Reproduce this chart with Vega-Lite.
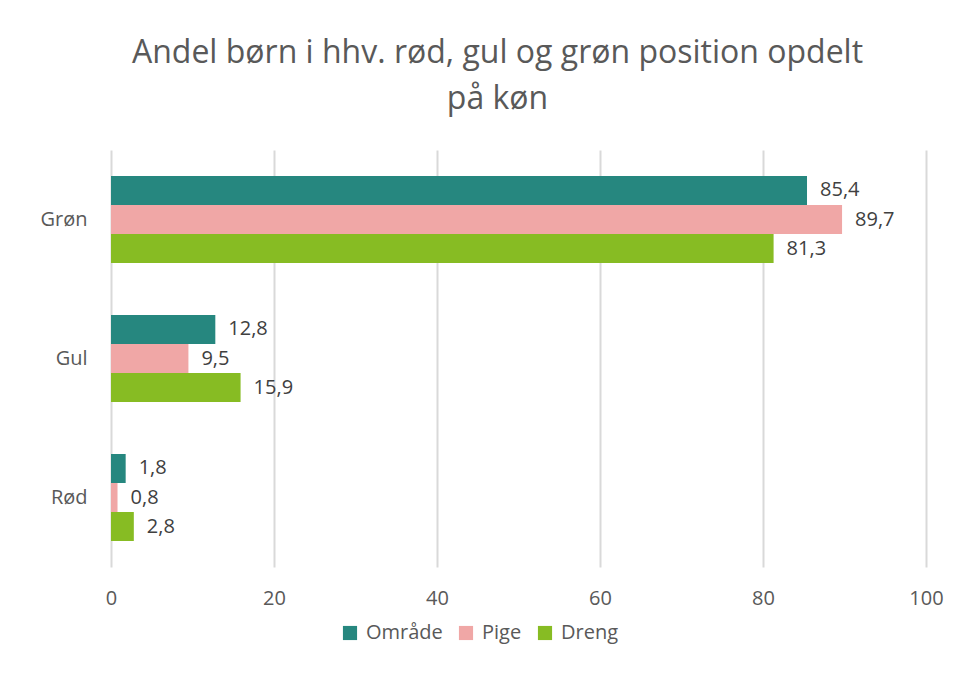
{
  "$schema": "https://vega.github.io/schema/vega-lite/v6.json",
  "width": 815,
  "height": 417,
  "autosize": {"type": "none"},
  "padding": {"left": 111, "top": 150, "right": 47, "bottom": 116},
  "background": "white",
  "title": {
    "text": ["Andel børn i hhv. rød, gul og grøn position opdelt", "på køn"],
    "font": "Open Sans",
    "fontSize": 32,
    "fontWeight": "normal",
    "color": "#595959",
    "lineHeight": 46,
    "anchor": "middle",
    "frame": "group",
    "dx": -21,
    "offset": 34
  },
  "config": {
    "locale": {"number": {"decimal": ",", "thousands": ".", "grouping": [3], "currency": ["", " kr."]}},
    "view": {"stroke": null},
    "font": "Open Sans"
  },
  "data": {
    "values": [
      {"kategori": "Grøn", "gruppe": "Område", "andel": 85.4},
      {"kategori": "Grøn", "gruppe": "Pige", "andel": 89.7},
      {"kategori": "Grøn", "gruppe": "Dreng", "andel": 81.3},
      {"kategori": "Gul", "gruppe": "Område", "andel": 12.8},
      {"kategori": "Gul", "gruppe": "Pige", "andel": 9.5},
      {"kategori": "Gul", "gruppe": "Dreng", "andel": 15.9},
      {"kategori": "Rød", "gruppe": "Område", "andel": 1.8},
      {"kategori": "Rød", "gruppe": "Pige", "andel": 0.8},
      {"kategori": "Rød", "gruppe": "Dreng", "andel": 2.8}
    ]
  },
  "encoding": {
    "y": {
      "field": "kategori",
      "type": "nominal",
      "sort": ["Grøn", "Gul", "Rød"],
      "scale": {"paddingInner": 0.374, "paddingOuter": 0.187},
      "axis": {
        "title": null,
        "domain": false,
        "ticks": false,
        "labelPadding": 24,
        "labelFontSize": 20,
        "labelColor": "#595959",
        "labelFont": "Open Sans"
      }
    },
    "yOffset": {
      "field": "gruppe",
      "type": "nominal",
      "sort": ["Område", "Pige", "Dreng"],
      "scale": {"paddingInner": 0, "paddingOuter": 0}
    },
    "x": {
      "field": "andel",
      "type": "quantitative",
      "scale": {"domain": [0, 100], "nice": false},
      "axis": {
        "title": null,
        "values": [0, 20, 40, 60, 80, 100],
        "domain": false,
        "ticks": false,
        "grid": true,
        "gridColor": "#d9d9d9",
        "gridWidth": 2,
        "labelFlush": false,
        "labelPadding": 21,
        "labelFontSize": 20,
        "labelColor": "#595959",
        "labelFont": "Open Sans"
      }
    }
  },
  "layer": [
    {
      "mark": {"type": "bar"},
      "encoding": {
        "color": {
          "field": "gruppe",
          "type": "nominal",
          "sort": ["Område", "Pige", "Dreng"],
          "scale": {"domain": ["Område", "Pige", "Dreng"], "range": ["#26877f", "#f0a7a6", "#87bc23"]},
          "legend": {
            "title": null,
            "orient": "none",
            "direction": "horizontal",
            "legendX": 229,
            "legendY": 473,
            "symbolType": "square",
            "symbolSize": 200,
            "symbolStrokeWidth": 0,
            "labelFontSize": 20,
            "labelColor": "#595959",
            "labelFont": "Open Sans",
            "columnPadding": 13,
            "labelOffset": 6
          }
        }
      }
    },
    {
      "mark": {"type": "text", "align": "left", "baseline": "middle", "dx": 13, "fontSize": 20, "color": "#404040", "font": "Open Sans"},
      "encoding": {
        "text": {"field": "andel", "type": "quantitative", "format": ".1f"}
      }
    }
  ]
}
